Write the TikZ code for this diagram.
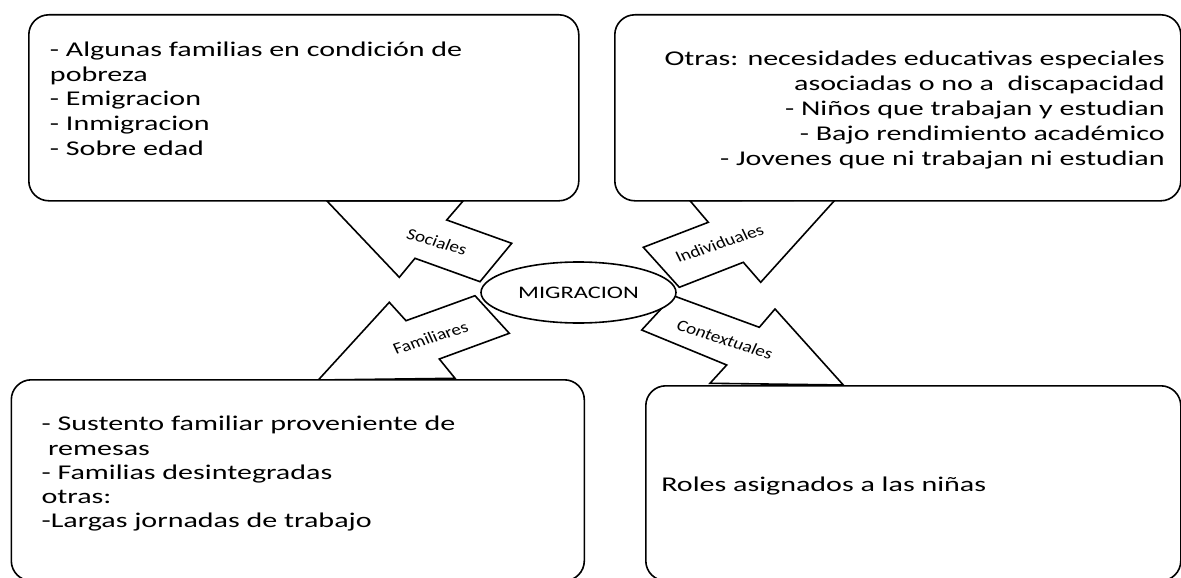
\documentclass[tikz,border=0pt]{standalone}
\usepackage{fontspec}
\setmainfont{Carlito}
\usetikzlibrary{shapes.geometric}

\begin{document}
\begin{tikzpicture}[x=1pt,y=-1pt,
  caja/.style={draw, line width=1.6pt, fill=white, rounded corners=20pt, anchor=north west, inner sep=0pt},
  flecha/.style={draw, line width=1.6pt, fill=white, line join=miter},
  texto/.style={inner sep=0pt, font=\fontsize{21}{25}\selectfont, xscale=1.43},
  etiqueta/.style={inner sep=0pt, font=\fontsize{16}{18}\selectfont, xscale=1.2}]
\useasboundingbox (0,0) rectangle (1181,578);
% flechas hacia las cajas
\draw[flecha] (326.7,200.7) -- (399.3,277.3) -- (415,258.3) -- (480,281.7) -- (511.7,243.3) -- (446.7,220) -- (463.3,200.7) -- cycle;
\draw[flecha] (690,200.7) -- (708.3,222.3) -- (643.3,247.3) -- (679.3,287.3) -- (743.3,262.3) -- (760.7,282.3) -- (835,200) -- cycle;
\draw[flecha] (318.3,380) -- (389.3,302.3) -- (406,320.7) -- (475,295.7) -- (509.3,333.3) -- (439.3,359) -- (455,378.3) -- cycle;
\draw[flecha] (673.3,295.7) -- (759.3,327.3) -- (775,309) -- (843.3,385) -- (710,383.3) -- (726.7,365) -- (641.7,330) -- cycle;
% cajas
\node[caja, minimum width=550pt, minimum height=186pt] (sociales) at (28,14) {};
\node[caja, minimum width=566pt, minimum height=186pt] (individuales) at (614,14) {};
\node[caja, minimum width=573pt, minimum height=201pt] (familiares) at (10.5,379) {};
\node[caja, minimum width=535pt, minimum height=195pt] (contextuales) at (645,385) {};
% centro
\node[draw, ellipse, line width=1.6pt, fill=white, minimum width=195pt, minimum height=61pt, inner sep=0pt] (migracion) at (578.5,292.5) {};
\node[texto, font=\fontsize{17.6}{20}\selectfont, xscale=0.97] (migtxt) at (migracion.center) {MIGRACION};
% etiquetas de las flechas
\node[etiqueta, rotate=-19] (lsoc) at (437,241.7) {Sociales};
\node[etiqueta, rotate=22] (lind) at (719.5,243.3) {Individuales};
\node[etiqueta, rotate=21] (lfam) at (430.5,337.7) {Familiares};
\node[etiqueta, rotate=-21] (lcon) at (725,339.5) {Contextuales};
% textos de las cajas
\node[texto, anchor=north west, align=left, font=\fontsize{21}{24.6}\selectfont] (tsoc) at (49.7,42) {- Algunas familias en condición de\\pobreza\\- Emigracion\\- Inmigracion\\- Sobre edad};
\node[texto, anchor=north east, align=right, font=\fontsize{21}{25}\selectfont] (tind) at (1165,51) {Otras: necesidades educativas especiales\\asociadas o no a~ discapacidad\\- Niños que trabajan y estudian\\- Bajo rendimiento académico\\- Jovenes que ni trabajan ni estudian};
\node[texto, anchor=north west, align=left, font=\fontsize{21}{24.3}\selectfont] (tfam) at (41.3,416) {- Sustento familiar proveniente de\\\hspace*{4.5pt}remesas\\- Familias desintegradas\\otras:\\-Largas jornadas de trabajo};
\node[texto, anchor=base west] (tcon) at (661,491) {Roles asignados a las niñas};
\end{tikzpicture}
\end{document}
